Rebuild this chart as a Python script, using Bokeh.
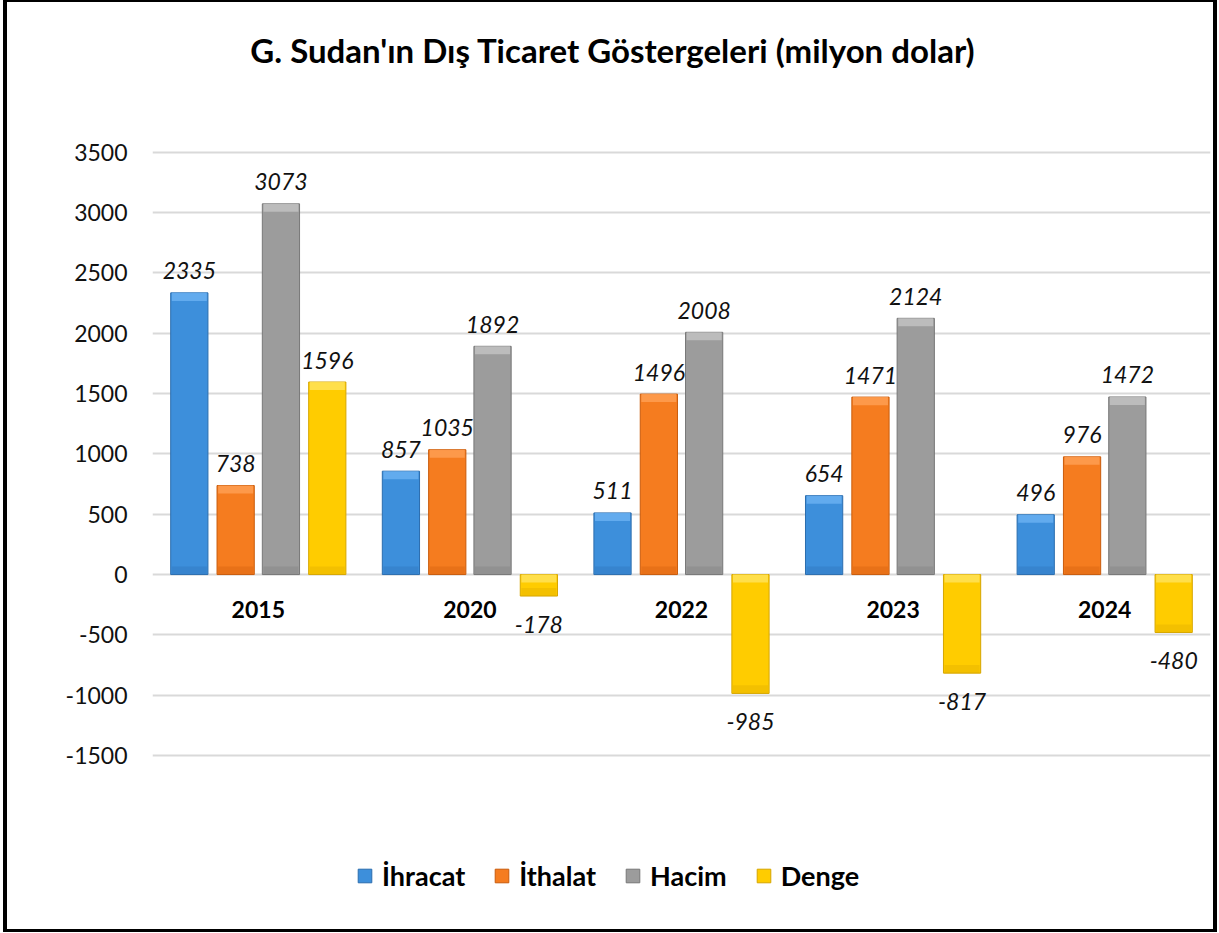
from bokeh.plotting import figure
from bokeh.models import Range1d, Legend, LegendItem, ColumnDataSource, FixedTicker
from bokeh.core.properties import value
from bokeh.embed import file_html
from bokeh.resources import INLINE

# ---- data ----
years = ["2015", "2020", "2022", "2023", "2024"]
ihracat = [2335, 857, 511, 654, 496]
ithalat = [738, 1035, 1496, 1471, 976]
hacim = [3073, 1892, 2008, 2124, 1472]
denge = [1596, -178, -985, -817, -480]
series_names = ["İhracat", "İthalat", "Hacim", "Denge"]
y_ticks = [-1500, -1000, -500, 0, 500, 1000, 1500, 2000, 2500, 3000, 3500]
title_text = "G. Sudan'ın Dış Ticaret Göstergeleri (milyon dolar)"

# ---- style ----
FONT = "Lato"
main_cols = ["#3D8FDB", "#F57C1F", "#9C9C9C", "#FFCC00"]
hi_cols = ["#6BB2F2", "#FFA055", "#C4C4C4", "#FFE45E"]
lo_cols = ["#2B6DAE", "#C95B0B", "#777777", "#D6A600"]
offsets = [-0.326, -0.107, 0.107, 0.326]
bar_w = 0.176

# geometry (pixels)
W, H = 1214, 932
BL, BR, BT, BB = 4, 4, 2, 3          # css border widths
ML = 145                              # left space for y labels
MR = 11
canvas_h = H - BT - BB
px_per_unit = 60 / 500.0
zero_px = 574 - BT - 3               # y=0 position from canvas top
y_top = zero_px / px_per_unit
y_bot = -(canvas_h - zero_px) / px_per_unit

p = figure(width=W, height=H, output_backend="svg", toolbar_location=None,
           x_range=Range1d(0, 5), y_range=Range1d(y_bot, y_top),
           min_border_left=ML, min_border_right=MR, min_border_top=0,
           min_border_bottom=0,
           styles={"margin-left": "3px", "border-style": "solid",
                   "border-color": "#000000",
                   "border-width": f"{BT}px {BR}px {BB}px {BL}px"})
p.outline_line_color = None
p.xaxis.visible = False
p.xgrid.visible = False
p.ygrid.grid_line_color = "#D9D9D9"
p.ygrid.grid_line_width = 2
p.yaxis.ticker = FixedTicker(ticks=y_ticks)
p.yaxis.major_label_overrides = {t: str(t) for t in y_ticks}
p.yaxis.axis_line_color = None
p.yaxis.major_tick_line_color = None
p.yaxis.minor_tick_line_color = None
p.yaxis.major_label_standoff = 19
p.yaxis.major_label_text_font = FONT
p.yaxis.major_label_text_font_size = "23px"
p.yaxis.major_label_text_color = "#111111"

units_per_px = 1 / px_per_unit
band = 8 * units_per_px

all_series = [ihracat, ithalat, hacim, denge]
legend_items = []
for k, vals in enumerate(all_series):
    xs = [i + 0.5 + offsets[k] for i in range(len(years))]
    tops = [max(v, 0) for v in vals]
    bots = [min(v, 0) for v in vals]
    src = ColumnDataSource(dict(x=xs, top=tops, bottom=bots))
    r = p.vbar(x="x", top="top", bottom="bottom", width=bar_w, source=src,
               fill_color=main_cols[k], line_color=lo_cols[k], line_width=1)
    # bevel highlight on top
    hb_top = list(tops)
    hb_bot = [t - min(band, (t - b) / 2) for t, b in zip(tops, bots)]
    p.vbar(x=xs, top=hb_top, bottom=hb_bot, width=bar_w * 0.94,
           fill_color=hi_cols[k], line_color=None, fill_alpha=0.8)
    # bevel darker bottom
    lb_bot = list(bots)
    lb_top = [b + min(band, (t - b) / 2) for t, b in zip(tops, bots)]
    p.vbar(x=xs, top=lb_top, bottom=lb_bot, width=bar_w * 0.94,
           fill_color=lo_cols[k], line_color=None, fill_alpha=0.3)
    legend_items.append(LegendItem(label=series_names[k], renderers=[r]))

    pos = ColumnDataSource(dict(x=[x for x, v in zip(xs, vals) if v >= 0],
                                y=[v for v in vals if v >= 0],
                                t=[str(v) for v in vals if v >= 0]))
    neg = ColumnDataSource(dict(x=[x for x, v in zip(xs, vals) if v < 0],
                                y=[v for v in vals if v < 0],
                                t=[str(v) for v in vals if v < 0]))
    p.text(x="x", y="y", text="t", source=pos, text_align="center",
           text_baseline="alphabetic", y_offset=-22, text_font=value(FONT),
           text_font_style="italic", text_font_size="23px", text_color="#111111")
    p.text(x="x", y="y", text="t", source=neg, text_align="center",
           text_baseline="top", y_offset=20, text_font=value(FONT),
           text_font_style="italic", text_font_size="23px", text_color="#111111")

# category labels at the zero line
p.text(x=[i + 0.5 for i in range(len(years))], y=[0] * len(years), text=years,
       text_align="center", text_baseline="middle", y_offset=35,
       text_font=value(FONT), text_font_style="bold", text_font_size="23px",
       text_color="#000000")

# title
p.text(x=[(609 - (ML + BL + 3)) / 210.0], y=[(574 - 52) * units_per_px],
       text=[title_text], text_align="center", text_baseline="middle",
       text_font=value(FONT), text_font_style="bold", text_font_size="33px",
       text_color="#000000")

legend = Legend(items=legend_items, orientation="horizontal", location=(204, 42),
                glyph_width=17, glyph_height=17, label_standoff=9, spacing=28,
                padding=0, margin=0, border_line_color=None, background_fill_alpha=0,
                label_text_font=FONT, label_text_font_style="bold",
                label_text_font_size="27px", label_text_color="#000000")
p.add_layout(legend, "center")

open("out.html", "w").write(file_html(p, INLINE))
